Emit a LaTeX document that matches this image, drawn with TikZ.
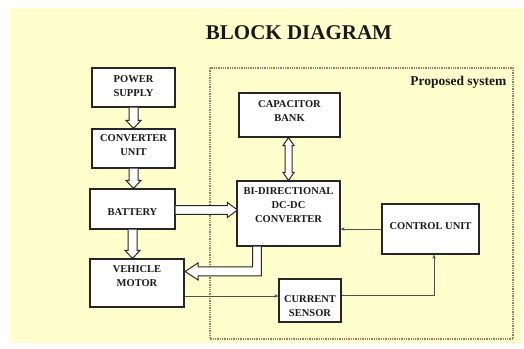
\documentclass[tikz,border=0pt]{standalone}
\usepackage{fontspec}
\setmainfont{Liberation Serif}
\usetikzlibrary{calc,arrows.meta}
\definecolor{bgyellow}{RGB}{255,255,206}
\definecolor{framec}{RGB}{160,120,100}
\definecolor{thinc}{RGB}{70,85,70}
\tikzset{
  blk/.style={draw=black!85, line width=1.1pt, fill=white, rectangle, inner sep=0pt},
  txt/.style={font=\bfseries\fontsize{10.5}{14}\selectfont, align=center, text=black!90},
  hollow/.style={draw=black!85, line width=1pt, fill=white, line join=miter},
  thin/.style={draw=thinc, line width=0.7pt, -{Stealth[length=4pt,width=3.5pt]}},
}
\begin{document}
\begin{tikzpicture}[x=1pt,y=-1pt]
\useasboundingbox (0,0) rectangle (524,348);
\fill[white] (0,0) rectangle (524,348);
\fill[bgyellow] (10,8) rectangle (524,343);

\node[font=\bfseries\fontsize{21}{24}\selectfont, text=black!90] (title) at (299,33) {BLOCK DIAGRAM};

% proposed system frame
\draw[framec, line width=1.2pt, dash pattern=on 1.3pt off 1pt] (210,68) rectangle (513,339);
\node[font=\bfseries\fontsize{13.5}{15}\selectfont, anchor=east, text=black!90] (prop) at (510,82) {Proposed system};

% blocks
\node[blk, minimum width=83pt, minimum height=39pt] (ps) at (133.5,87.5) {};
\node[txt] at ([yshift=1pt]ps.center) {POWER\\SUPPLY};
\node[blk, minimum width=83pt, minimum height=39pt] (cv) at (133.5,148.5) {};
\node[txt] at ([yshift=3pt]cv.center) {CONVERTER\\UNIT};
\node[blk, minimum width=85pt, minimum height=40pt] (bt) at (132.5,209) {};
\node[txt] at ([yshift=-3pt]bt.center) {BATTERY};
\node[blk, minimum width=94pt, minimum height=48pt] (vm) at (137,283) {};
\node[txt] at ([yshift=7pt]vm.center) {VEHICLE\\MOTOR};
\node[blk, minimum width=101pt, minimum height=44pt] (cb) at (289.5,115) {};
\node[txt] at ([yshift=4pt]cb.center) {CAPACITOR\\BANK};
\node[blk, minimum width=103pt, minimum height=65pt] (bd) at (288.5,213.5) {};
\node[txt] at ([yshift=8pt]bd.center) {BI-DIRECTIONAL\\DC-DC\\CONVERTER};
\node[blk, minimum width=97pt, minimum height=50pt] (cu) at (430.5,229) {};
\node[txt] at ([yshift=3pt]cu.center) {CONTROL UNIT};
\node[blk, minimum width=62pt, minimum height=43pt] (cs) at (310,300.5) {};
\node[txt] at ([yshift=-6pt]cs.center) {CURRENT\\SENSOR};

% hollow vertical arrows
\foreach \a/\b in {ps/cv, cv/bt, bt/vm}{
  \draw[hollow] ($(\a.south)+(-4.5,0)$) -- ($(\a.south|-\b.north)+(-4.5,-8)$)
    -- ($(\a.south|-\b.north)+(-7.5,-8)$) -- (\a.south|-\b.north)
    -- ($(\a.south|-\b.north)+(7.5,-8)$) -- ($(\a.south|-\b.north)+(4.5,-8)$)
    -- ($(\a.south)+(4.5,0)$);
}

% battery -> bidirectional
\coordinate (bs) at ($(bt.east)+(0,1)$);
\draw[hollow] ($(bs)+(0,-4.3)$) -- ($(bs-|bd.west)+(-9,-4.3)$)
  -- ($(bs-|bd.west)+(-9,-7.5)$) -- ($(bs-|bd.west)+(1,0)$)
  -- ($(bs-|bd.west)+(-9,7.5)$) -- ($(bs-|bd.west)+(-9,4.3)$)
  -- ($(bs)+(0,4.3)$);

% capacitor bank <-> bidirectional
\coordinate (ct) at ($(cb.south)+(-1,0)$);
\coordinate (cbt) at (ct|-bd.north);
\draw[hollow] (ct) -- ($(ct)+(5.5,8)$) -- ($(ct)+(3.5,8)$) -- ($(cbt)+(3.5,-8)$)
  -- ($(cbt)+(5.5,-8)$) -- (cbt) -- ($(cbt)+(-5.5,-8)$) -- ($(cbt)+(-3.5,-8)$)
  -- ($(ct)+(-3.5,8)$) -- ($(ct)+(-5.5,8)$) -- cycle;

% bidirectional -> vehicle motor (L-shaped)
\coordinate (ls) at ($(bd.south west)+(20.5,0)$);
\coordinate (lt) at ($(vm.north east)+(0.5,13)$);
\draw[hollow] ($(ls)+(-4.3,0)$) -- ($(ls|-lt)+(-4.3,-4.5)$)
  -- ($(lt)+(13,-4.5)$) -- ($(lt)+(13,-8.5)$) -- (lt)
  -- ($(lt)+(13,8.5)$) -- ($(lt)+(13,4.5)$)
  -- ($(ls|-lt)+(4.3,4.5)$) -- ($(ls)+(4.3,0)$);

% thin arrows
\draw[thin] (cu.west) -- (cu.west-|bd.east);
\coordinate (vs) at ($(vm.east)+(0,13)$);
\draw[thin] (vs) -- (vs-|cs.west);
\coordinate (ce) at ($(cs.east)+(0,-5.5)$);
\draw[thin] (ce) -| ($(cu.south)+(3.5,0)$);
\end{tikzpicture}
\end{document}
